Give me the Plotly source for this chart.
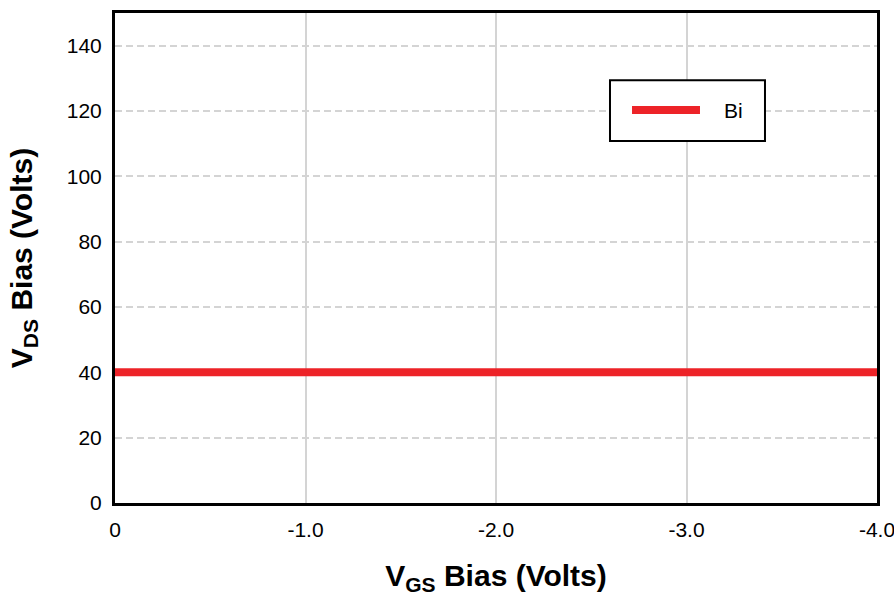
import plotly.graph_objects as go

# Bias sweep: gate voltage (V) and drain voltage (V)
vgs = [0, -1.0, -2.0, -3.0, -4.0]
vds = [40, 40, 40, 40, 40]
series_name = "Bi"

x_tickvals = [0, -1.0, -2.0, -3.0, -4.0]
x_ticktext = ["0", "-1.0", "-2.0", "-3.0", "-4.0"]
y_tickvals = [0, 20, 40, 60, 80, 100, 120, 140]

RED = "#ed2328"
GRID = "#d4d4d4"
FONT = "Liberation Sans, Arial, Helvetica, sans-serif"

fig = go.Figure()
fig.add_trace(go.Scatter(
    x=vgs, y=vds, mode="lines", name=series_name,
    line=dict(color=RED, width=8), showlegend=False,
))

# Boxed legend entry
lx0, lx1, ly0, ly1 = 0.6496, 0.853, 0.739, 0.863
fig.add_shape(type="rect", xref="paper", yref="paper",
              x0=lx0, x1=lx1, y0=ly0, y1=ly1,
              line=dict(color="black", width=2), fillcolor="white", layer="above")
fig.add_shape(type="line", xref="paper", yref="paper",
              x0=0.6785, x1=0.7677, y0=0.802, y1=0.802,
              line=dict(color=RED, width=8), layer="above")
fig.add_annotation(xref="paper", yref="paper", x=0.797, y=0.802,
                   text=series_name, showarrow=False, xanchor="left", yanchor="middle",
                   font=dict(family=FONT, size=21, color="black"))

fig.update_layout(
    width=894, height=596,
    margin=dict(l=115, r=17, t=13, b=93),
    paper_bgcolor="white", plot_bgcolor="white",
    font=dict(family=FONT, size=21, color="black"),
    xaxis=dict(
        range=[0, -4.0], tickvals=x_tickvals, ticktext=x_ticktext,
        showgrid=True, gridcolor=GRID, gridwidth=2, automargin=False,
        showline=True, linecolor="black", linewidth=3, mirror=True,
        zeroline=False, ticks="", ticklabelstandoff=6, ticklabeloverflow="allow",
        title=dict(text="<b>V<sub>GS</sub> Bias (Volts)</b>",
                   font=dict(family=FONT, size=30), standoff=34),
    ),
    yaxis=dict(
        range=[0, 150], tickvals=y_tickvals, automargin=False,
        showgrid=True, gridcolor=GRID, gridwidth=2, griddash="7px,4px",
        showline=True, linecolor="black", linewidth=3, mirror=True,
        zeroline=False, ticks="", ticklabelstandoff=6,
        title=dict(text="<b>V<sub>DS</sub> Bias (Volts)</b>",
                   font=dict(family=FONT, size=30), standoff=26),
    ),
)

fig.write_html("out.html")
